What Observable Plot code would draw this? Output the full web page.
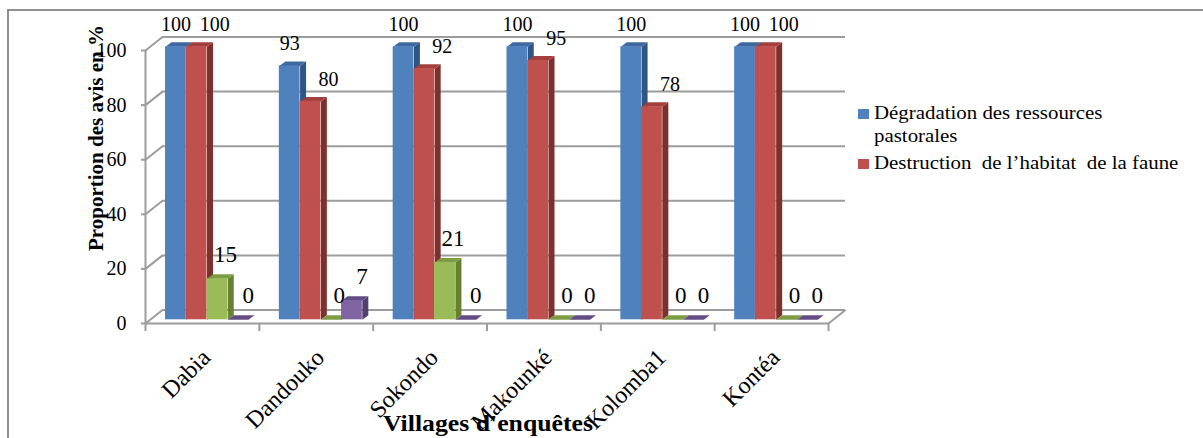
<!DOCTYPE html>
<html>
<head>
<meta charset="utf-8">
<script src="https://cdn.jsdelivr.net/npm/d3@7"></script>
<script src="https://cdn.jsdelivr.net/npm/@observablehq/plot@0.6"></script>
<style>
  html, body { margin: 0; padding: 0; background: #ffffff; }
  #wrap { position: relative; width: 1203px; height: 438px; overflow: hidden;
          font-family: "Liberation Serif", "Times New Roman", serif; color: #000; }
  #chart { position: absolute; left: 0; top: 0; }
  .frame { position: absolute; left: 7px; top: 9px; width: 1400px; height: 600px;
           border-left: 2px solid #8e8e8e; border-top: 2px solid #8e8e8e; box-sizing: border-box; }
  .ytitle { position: absolute; left: 96px; top: 138px; white-space: nowrap;
            font-weight: bold; font-size: 21px; line-height: 21px;
            transform: translate(-50%, -50%) rotate(-90deg); }
  .xtitle { position: absolute; left: 488px; top: 412px; white-space: nowrap;
            font-weight: bold; font-size: 23px; line-height: 23px;
            transform: translateX(-50%) scaleX(1.12); }
  .leg { position: absolute; left: 858px; }
  .leg .sw { position: absolute; left: 0; top: 6.5px; width: 11px; height: 10px; }
  .leg .tx { position: absolute; left: 16px; top: 0; white-space: pre; font-size: 18px; line-height: 23px;
             transform: scaleX(1.16); transform-origin: 0 0; }
</style>
</head>
<body>
<div id="wrap">
  <div class="frame"></div>
  <div id="chart"></div>
</div>
<script>
// ---- data ----
const villages = ["Dabia", "Dandouko", "Sokondo", "Makounké", "Kolomba1", "Kontéa"];
const degradation = [100, 93, 100, 100, 100, 100];
const destruction = [100, 80, 92, 95, 78, 100];
const serie3 = [15, 0, 21, 0, 0, 0];
const serie4 = [0, 7, 0, 0, 0, 0];
const legendLabels = [["Dégradation des ressources", "pastorales"], ["Destruction  de l’habitat  de la faune"]];
const yTicks = [0, 20, 40, 60, 80, 100];
const yTitle = "Proportion des avis en %";
const xTitle = "Villages d'enquêtes";

// ---- styles ----
const frontColors = ["#4F81BD", "#C0504D", "#9BBB59", "#8064A2"];
const sideColors  = ["#2F5584", "#7D302E", "#66822F", "#54406F"];
const topColors   = ["#3D68A0", "#A3403D", "#7E9C44", "#644C86"];
const gridColor = "#9c9c9c";
const font = "Liberation Serif";

// ---- geometry of the plot frame ----
const W = 1203, H = 438, mL = 145, mR = 375, mT = 50, mB = 115;
const nCat = villages.length;
const pxX = (W - mL - mR) / nCat;     // px per category
const pxY = (H - mT - mB) / 100;      // px per unit
const lead = 15.4 / pxX, bw = 20.75 / pxX;   // bar lead-in and width (category units)
const bDX = 6 / pxX, bDY = 4.5 / pxY;        // bar depth
const wDX = 17 / pxX, wDY = 13.5 / pxY;      // wall depth
const barDx = 4.6, barDy = -3.7;             // bars sit a little behind the front plane

const seriesValues = [degradation, destruction, serie3, serie4];
const bars = [];
villages.forEach((name, i) => seriesValues.forEach((vals, s) => {
  const x0 = i + lead + s * bw;
  bars.push({i, s, v: vals[i], x0, x1: x0 + bw});
}));
const sideVerts = [], topVerts = [];
bars.forEach((b, k) => {
  [[b.x1, 0], [b.x1, b.v], [b.x1 + bDX, b.v + bDY], [b.x1 + bDX, bDY]]
    .forEach(([x, y]) => sideVerts.push({id: k, x, y, fill: sideColors[b.s]}));
  [[b.x0, b.v], [b.x1, b.v], [b.x1 + bDX, b.v + bDY], [b.x0 + bDX, b.v + bDY]]
    .forEach(([x, y]) => topVerts.push({id: k, x, y, fill: topColors[b.s]}));
});

const labelShift = [0, 18, 8, 10];
const labelAbove = [22, 22, 24, 24];
const labelSize = [20, 20, 23, 23];

const labelMarks = [0, 1, 2, 3].map(s => Plot.text(bars.filter(d => d.s === s), {
  x: d => (d.x0 + d.x1) / 2, y: "v", text: d => String(d.v),
  dx: barDx + labelShift[s], dy: barDy - labelAbove[s],
  fontSize: labelSize[s], fontFamily: font, fill: "#000"
}));

const chart = Plot.plot({
  width: W, height: H,
  marginLeft: mL, marginRight: mR, marginTop: mT, marginBottom: mB,
  x: {type: "linear", domain: [0, nCat], axis: null},
  y: {type: "linear", domain: [0, 100], axis: null},
  color: {type: "identity"},
  style: {background: "transparent", fontFamily: font, overflow: "visible"},
  marks: [
    // back wall gridlines
    Plot.ruleY(yTicks, {y: d => d + wDY, x1: wDX, x2: nCat + wDX, stroke: gridColor, strokeWidth: 2}),
    // side wall gridlines
    Plot.link(yTicks, {x1: 0, y1: d => d, x2: wDX, y2: d => d + wDY, stroke: gridColor, strokeWidth: 2}),
    // floor front edge + right edge
    Plot.ruleY([0], {x1: 0, x2: nCat, stroke: gridColor, strokeWidth: 2}),
    Plot.link([nCat], {x1: d => d, y1: 0, x2: d => d + wDX, y2: wDY, stroke: gridColor, strokeWidth: 2}),
    // front y axis and ticks
    Plot.ruleX([0], {y1: 0, y2: 100, stroke: gridColor, strokeWidth: 2}),
    Plot.ruleY(yTicks, {x1: -4 / pxX, x2: 0, stroke: gridColor, strokeWidth: 2}),
    Plot.ruleX(d3.range(nCat + 1), {y1: 0, y2: -8 / pxY, stroke: gridColor, strokeWidth: 2}),
    // bars: sides, tops, fronts
    Plot.line(sideVerts, {x: "x", y: "y", z: "id", fill: "fill", stroke: "none", dx: barDx, dy: barDy}),
    Plot.line(topVerts, {x: "x", y: "y", z: "id", fill: "fill", stroke: "none", dx: barDx, dy: barDy}),
    Plot.rect(bars, {x1: "x0", x2: "x1", y1: 0, y2: "v", fill: d => frontColors[d.s], dx: barDx, dy: barDy}),
    // labels
    ...labelMarks,
    Plot.text(yTicks, {x: 0, y: d => d, text: d => String(d), textAnchor: "end", dx: -19,
      fontSize: 20, fontFamily: font, fill: "#000"}),
    Plot.text(villages, {x: (d, i) => i + 0.5, y: 0, text: d => d, rotate: -45, textAnchor: "end",
      dx: 4, dy: 30, fontSize: 24, fontFamily: font, fill: "#000"})
  ]
});
document.getElementById("chart").appendChild(chart);

const wrap = document.getElementById("wrap");
const yt = document.createElement("div"); yt.className = "ytitle"; yt.textContent = yTitle; wrap.appendChild(yt);
const xt = document.createElement("div"); xt.className = "xtitle"; xt.textContent = xTitle; wrap.appendChild(xt);
const legTops = [102.4, 152.4];
legendLabels.forEach((lines, s) => {
  const e = document.createElement("div");
  e.className = "leg"; e.style.top = legTops[s] + "px";
  const sw = document.createElement("div"); sw.className = "sw"; sw.style.background = frontColors[s];
  const tx = document.createElement("div"); tx.className = "tx"; tx.textContent = lines.join("\n");
  e.appendChild(sw); e.appendChild(tx); wrap.appendChild(e);
});
</script>
</body>
</html>
